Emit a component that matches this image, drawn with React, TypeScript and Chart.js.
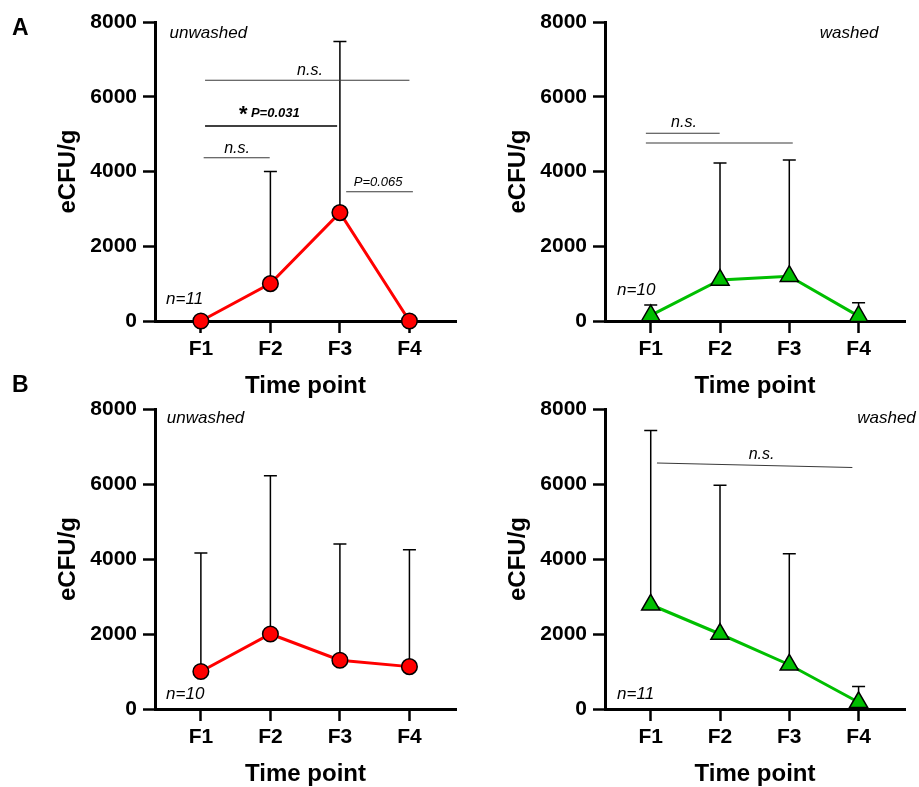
import React, { useEffect, useRef } from 'react';
import { Chart, registerables } from 'chart.js';

Chart.register(...registerables);

const FAMILY = '"Liberation Sans", Arial, Helvetica, sans-serif';

// ---------- data ----------
const categories = ['F1', 'F2', 'F3', 'F4'];
const yTickValues = [0, 2000, 4000, 6000, 8000];

const aUnwashedMean = [0, 1000, 2900, 0];
const aUnwashedUpper = [0, 4000, 7480, 0];
const aWashedMean = [150, 1100, 1200, 130];
const aWashedUpper = [430, 4230, 4310, 490];
const bUnwashedMean = [1000, 2000, 1300, 1130];
const bUnwashedUpper = [4160, 6220, 4400, 4250];
const bWashedMean = [2780, 2000, 1180, 180];
const bWashedUpper = [7430, 5970, 4140, 600];

type Bracket = { x1: number; x2: number; y1: number; y2: number; bold?: boolean };
type Label = { x: number; y: number; text: string; kind: 'ns' | 'pbold' | 'p' | 'star' | 'group' | 'n'; align?: CanvasTextAlign };

const aUnwashedBrackets: Bracket[] = [
  { x1: 0.06, x2: 3.0, y1: 6440, y2: 6440 },
  { x1: 0.06, x2: 1.96, y1: 5217, y2: 5217, bold: true },
  { x1: 0.04, x2: 0.99, y1: 4369, y2: 4369 },
  { x1: 2.09, x2: 3.05, y1: 3460, y2: 3460 },
];
const aUnwashedLabels: Label[] = [
  { x: 1.57, y: 6582, text: 'n.s.', kind: 'ns' },
  { x: 0.61, y: 5351, text: '*', kind: 'star' },
  { x: 0.72, y: 5458, text: 'P=0.031', kind: 'pbold', align: 'left' },
  { x: 0.52, y: 4495, text: 'n.s.', kind: 'ns' },
  { x: 2.55, y: 3599, text: 'P=0.065', kind: 'p' },
  { x: -0.45, y: 7565, text: 'unwashed', kind: 'group', align: 'left' },
  { x: -0.5, y: 455, text: 'n=11', kind: 'n', align: 'left' },
];

const aWashedBrackets: Bracket[] = [
  { x1: -0.07, x2: 0.995, y1: 5022, y2: 5022 },
  { x1: -0.07, x2: 2.05, y1: 4763, y2: 4763 },
];
const aWashedLabels: Label[] = [
  { x: 0.48, y: 5199, text: 'n.s.', kind: 'ns' },
  { x: 2.44, y: 7565, text: 'washed', kind: 'group', align: 'left' },
  { x: -0.485, y: 696, text: 'n=10', kind: 'n', align: 'left' },
];

const bUnwashedBrackets: Bracket[] = [];
const bUnwashedLabels: Label[] = [
  { x: -0.49, y: 7627, text: 'unwashed', kind: 'group', align: 'left' },
  { x: -0.5, y: 259, text: 'n=10', kind: 'n', align: 'left' },
];

const bWashedBrackets: Bracket[] = [
  { x1: 0.09, x2: 2.91, y1: 6559, y2: 6442 },
];
const bWashedLabels: Label[] = [
  { x: 1.6, y: 6666, text: 'n.s.', kind: 'ns' },
  { x: 2.98, y: 7627, text: 'washed', kind: 'group', align: 'left' },
  { x: -0.485, y: 259, text: 'n=11', kind: 'n', align: 'left' },
];

// ---------- styles ----------
const RED = '#ff0000';
const GREEN = '#00bf00';

const labelFonts: Record<Label['kind'], string> = {
  ns: `italic 16px ${FAMILY}`,
  pbold: `italic bold 13px ${FAMILY}`,
  p: `italic 13px ${FAMILY}`,
  star: `bold 22px ${FAMILY}`,
  group: `italic 17px ${FAMILY}`,
  n: `italic 17px ${FAMILY}`,
};

type PanelCfg = {
  left: number; top: number; width: number; height: number;
  area: { l: number; r: number; t: number; b: number };
  yTitlePad: number; xTitlePad: number;
  mean: number[]; upper: number[];
  color: string; marker: 'circle' | 'triangle'; radius: number; lineWidth: number;
  brackets: Bracket[]; labels: Label[];
};

const panels: PanelCfg[] = [
  {
    left: 0, top: 0, width: 460, height: 402,
    area: { l: 155, r: 456, t: 22, b: 321 }, yTitlePad: 53.6, xTitlePad: 0.9,
    mean: aUnwashedMean, upper: aUnwashedUpper, color: RED, marker: 'circle', radius: 7.8, lineWidth: 3,
    brackets: aUnwashedBrackets, labels: aUnwashedLabels,
  },
  {
    left: 460, top: 0, width: 459, height: 402,
    area: { l: 605, r: 905, t: 22, b: 321 }, yTitlePad: 43.6, xTitlePad: 0.9,
    mean: aWashedMean, upper: aWashedUpper, color: GREEN, marker: 'triangle', radius: 10.5, lineWidth: 3,
    brackets: aWashedBrackets, labels: aWashedLabels,
  },
  {
    left: 0, top: 380, width: 460, height: 420,
    area: { l: 155, r: 456, t: 409, b: 709 }, yTitlePad: 53.6, xTitlePad: 11.6,
    mean: bUnwashedMean, upper: bUnwashedUpper, color: RED, marker: 'circle', radius: 7.8, lineWidth: 3,
    brackets: bUnwashedBrackets, labels: bUnwashedLabels,
  },
  {
    left: 460, top: 380, width: 459, height: 420,
    area: { l: 605, r: 905, t: 409, b: 709 }, yTitlePad: 43.6, xTitlePad: 11.6,
    mean: bWashedMean, upper: bWashedUpper, color: GREEN, marker: 'triangle', radius: 10.5, lineWidth: 3,
    brackets: bWashedBrackets, labels: bWashedLabels,
  },
];

function Panel({ p }: { p: PanelCfg }) {
  const ref = useRef<HTMLCanvasElement>(null);
  useEffect(() => {
    const canvas = ref.current;
    if (!canvas) return;
    const a = p.area;
    const padTop = a.t - p.top;
    const padRight = p.left + p.width - a.r;
    const yW = a.l - p.left;
    const xH = p.top + p.height - a.b;

    const annot = {
      id: 'annot' + p.left + '_' + p.top,
      beforeDatasetsDraw(chart: any) {
        const { ctx, scales } = chart;
        const xs = scales.x, ys = scales.y;
        ctx.save();
        ctx.strokeStyle = '#000';
        ctx.lineWidth = 1.5;
        p.mean.forEach((m, i) => {
          const u = p.upper[i];
          if (u <= m) return;
          const px = xs.getPixelForValue(i);
          const py0 = ys.getPixelForValue(m);
          const py1 = ys.getPixelForValue(u);
          ctx.beginPath();
          ctx.moveTo(px, py0);
          ctx.lineTo(px, py1);
          ctx.moveTo(px - 6.5, py1);
          ctx.lineTo(px + 6.5, py1);
          ctx.stroke();
        });
        ctx.restore();
      },
      afterDatasetsDraw(chart: any) {
        const { ctx, scales } = chart;
        const xs = scales.x, ys = scales.y;
        ctx.save();
        p.brackets.forEach((b) => {
          ctx.beginPath();
          ctx.strokeStyle = b.bold ? '#000' : '#3a3a3a';
          ctx.lineWidth = b.bold ? 1.5 : 1.1;
          ctx.moveTo(xs.getPixelForValue(b.x1), ys.getPixelForValue(b.y1));
          ctx.lineTo(xs.getPixelForValue(b.x2), ys.getPixelForValue(b.y2));
          ctx.stroke();
        });
        p.labels.forEach((l) => {
          ctx.font = labelFonts[l.kind];
          ctx.fillStyle = '#000';
          ctx.textAlign = l.align || 'center';
          ctx.textBaseline = 'alphabetic';
          ctx.fillText(l.text, xs.getPixelForValue(l.x), ys.getPixelForValue(l.y));
        });
        ctx.restore();
      },
    };

    const axisGrid = { drawOnChartArea: false, drawTicks: true, tickLength: 12, tickWidth: 2.5, tickColor: '#000' };
    const axisBorder = { display: true, color: '#000', width: 3 };

    const chart = new Chart(canvas, {
      type: 'line',
      data: {
        datasets: [
          {
            data: categories.map((_, i) => ({ x: i, y: p.mean[i] })),
            borderColor: p.color,
            borderWidth: p.lineWidth,
            pointStyle: p.marker,
            pointRadius: p.radius,
            pointHoverRadius: p.radius,
            pointBackgroundColor: p.color,
            pointBorderColor: '#000',
            pointBorderWidth: 1.5,
            tension: 0,
            clip: false as any,
            fill: false,
          },
        ],
      },
      options: {
        animation: false,
        responsive: false,
        events: [],
        layout: { autoPadding: false, padding: { top: padTop, right: padRight, left: 0, bottom: 0 } },
        plugins: { legend: { display: false }, tooltip: { enabled: false } },
        scales: {
          x: {
            type: 'linear',
            min: -0.66,
            max: 3.67,
            afterBuildTicks: (s: any) => { s.ticks = categories.map((_, i) => ({ value: i })); },
            afterFit: (s: any) => { s.height = xH; s.paddingLeft = 0; s.paddingRight = 0; },
            ticks: {
              callback: (v: any) => categories[v] ?? '',
              font: { family: FAMILY, size: 21, weight: 'bold' },
              color: '#000',
              padding: 4,
              maxRotation: 0,
              autoSkip: false,
            },
            grid: axisGrid,
            border: axisBorder,
            title: {
              display: true,
              text: 'Time point',
              font: { family: FAMILY, size: 24, weight: 'bold' },
              color: '#000',
              padding: { top: 0, bottom: p.xTitlePad },
            },
          },
          y: {
            type: 'linear',
            min: 0,
            max: 8000,
            afterBuildTicks: (s: any) => { s.ticks = yTickValues.map((v) => ({ value: v })); },
            afterFit: (s: any) => { s.width = yW; s.paddingTop = 0; s.paddingBottom = 0; },
            ticks: {
              callback: (v: any) => String(v),
              font: { family: FAMILY, size: 21, weight: 'bold' },
              color: '#000',
              padding: 6,
            },
            grid: axisGrid,
            border: axisBorder,
            title: {
              display: true,
              text: 'eCFU/g',
              font: { family: FAMILY, size: 24, weight: 'bold' },
              color: '#000',
              padding: { top: p.yTitlePad, bottom: 0 },
            },
          },
        },
      } as any,
      plugins: [annot],
    });
    return () => chart.destroy();
  }, [p]);

  return (
    <canvas
      ref={ref}
      width={p.width}
      height={p.height}
      style={{ position: 'absolute', left: p.left, top: p.top, width: p.width, height: p.height }}
    />
  );
}

export default function App() {
  const letter: React.CSSProperties = {
    position: 'absolute',
    fontFamily: FAMILY,
    fontWeight: 'bold',
    fontSize: 23,
    lineHeight: '23px',
    color: '#000',
  };
  return (
    <div
      style={{
        position: 'fixed', left: 0, top: 0, width: 919, height: 787,
        overflow: 'hidden', background: '#fff',
      }}
    >
      {panels.map((p, i) => (
        <Panel key={i} p={p} />
      ))}
      <div style={{ ...letter, left: 12, top: 15.5 }}>A</div>
      <div style={{ ...letter, left: 12, top: 372.5 }}>B</div>
    </div>
  );
}
